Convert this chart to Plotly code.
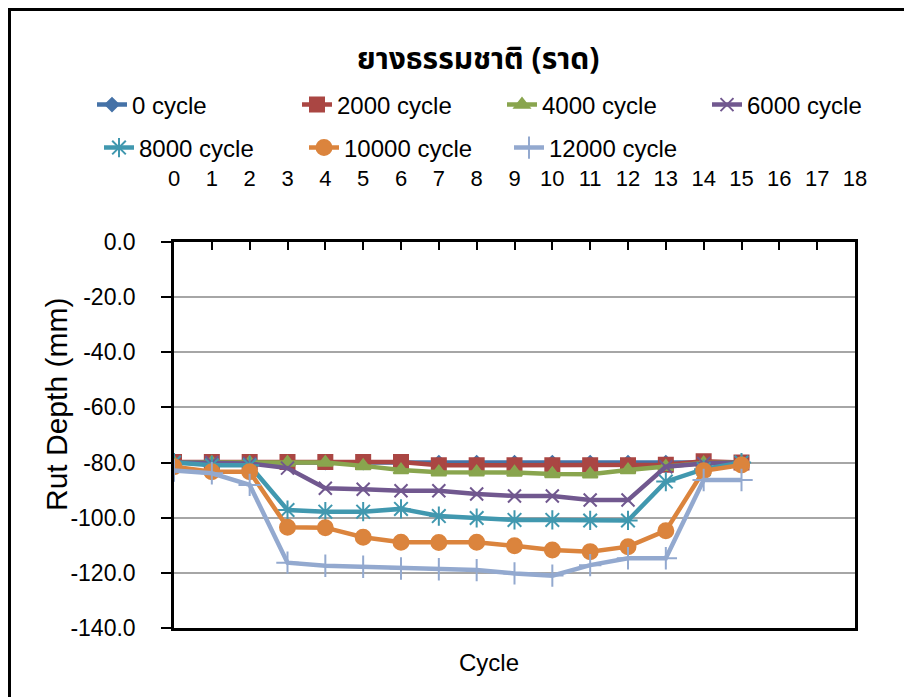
import plotly.graph_objects as go

# ---- data ----
positions = [0, 1, 2, 3, 4, 5, 6, 7, 8, 9, 10, 11, 12, 13, 14, 15]
series_names = ["0 cycle", "2000 cycle", "4000 cycle", "6000 cycle",
                "8000 cycle", "10000 cycle", "12000 cycle"]
c0 = [-80.0, -80.0, -80.0, -80.0, -80.0, -80.0, -80.0, -80.0,
      -80.0, -80.0, -80.0, -80.0, -80.0, -80.0, -80.0, -80.0]
c2000 = [-79.8, -79.8, -79.8, -79.8, -79.8, -79.8, -79.8, -81.0,
         -81.0, -81.0, -81.0, -81.0, -81.0, -80.8, -79.5, -80.0]
c4000 = [-80.0, -80.0, -80.0, -80.0, -80.0, -81.2, -82.7, -83.5,
         -83.5, -83.6, -84.1, -84.2, -82.7, -81.5, -80.2, -80.0]
c6000 = [-80.0, -80.0, -80.3, -82.0, -89.3, -89.7, -90.2, -90.2,
         -91.4, -92.1, -92.1, -93.6, -93.6, -81.5, -80.3, -80.0]
c8000 = [-80.0, -81.0, -81.0, -97.2, -97.8, -97.8, -96.8, -99.4,
         -100.1, -100.8, -100.8, -101.0, -101.0, -86.9, -82.4, -80.0]
c10000 = [-81.5, -83.3, -83.3, -103.5, -103.6, -107.1, -108.9, -109.0,
          -108.9, -110.2, -111.7, -112.3, -110.5, -104.7, -83.0, -80.9]
c12000 = [-82.9, -83.9, -88.1, -116.3, -117.4, -117.8, -118.4, -118.7,
          -119.0, -120.2, -121.0, -117.2, -114.7, -114.7, -86.3, -86.3]
x_ticks = list(range(0, 19))
y_ticks = [0, -20, -40, -60, -80, -100, -120, -140]
y_ticktext = ["0.0", "-20.0", "-40.0", "-60.0", "-80.0", "-100.0", "-120.0", "-140.0"]

values = [c0, c2000, c4000, c6000, c8000, c10000, c12000]
colors = ["#4572A7", "#AA4643", "#89A54E", "#71588F", "#4198AF", "#DB843D", "#93A9CF"]
symbols = ["diamond", "square", "triangle-up", "x-thin-open", "asterisk-open",
           "circle", "cross-thin-open"]
msizes = [10, 14, 13, 13, 16, 15, 16]
legends = ["legend", "legend", "legend", "legend", "legend2", "legend2", "legend2"]

FONT = "Liberation Sans, Arial, sans-serif"

fig = go.Figure()
for name, vals, col, sym, ms, lg in zip(series_names, values, colors, symbols, msizes, legends):
    fig.add_trace(go.Scatter(
        x=positions, y=vals, name=name, mode="lines+markers",
        line=dict(color=col, width=4.5),
        marker=dict(symbol=sym, size=ms, color=col,
                    line=dict(color=col, width=2)),
        legend=lg,
    ))

# page has an 8px body margin; work in screen pixels and convert
OFF = 8
plot_l, plot_r, plot_t, plot_b = 174, 855, 242, 628   # screen px
W, H = 904, 689
pw, ph = plot_r - plot_l, plot_b - plot_t

def px(x):
    return (x - plot_l) / pw

def py(y):
    return (plot_b - y) / ph

fig.update_layout(
    width=W, height=H,
    margin=dict(l=plot_l - OFF, r=W + OFF - plot_r, t=plot_t - OFF, b=H + OFF - plot_b, pad=0),
    paper_bgcolor="white", plot_bgcolor="white",
    font=dict(family=FONT, size=23, color="black"),
    showlegend=True,
    legend=dict(orientation="h", x=px(99), xanchor="left", y=py(105), yanchor="middle",
                entrywidth=160, font=dict(size=24), bgcolor="rgba(0,0,0,0)"),
    legend2=dict(orientation="h", x=px(99), xanchor="left", y=py(148), yanchor="middle",
                 entrywidth=160, font=dict(size=24), bgcolor="rgba(0,0,0,0)"),
    xaxis=dict(range=[0, 18], side="top", tickmode="array", tickvals=x_ticks,
               ticktext=[str(v) for v in x_ticks],
               ticks="inside", ticklen=8, tickwidth=2, tickcolor="black",
               showline=True, linecolor="black", linewidth=2.5, mirror=True,
               showgrid=False, zeroline=False, ticklabelstandoff=44,
               tickfont=dict(size=22)),
    yaxis=dict(range=[-140, 0], tickmode="array", tickvals=y_ticks,
               ticktext=y_ticktext, ticks="outside", ticklen=10, tickwidth=2,
               tickcolor="black", showline=True, linecolor="black", linewidth=2.5,
               mirror=True, showgrid=True, gridcolor="#A6A6A6", gridwidth=2,
               zeroline=False, ticklabelstandoff=21, tickfont=dict(size=23)),
)

# outer chart border
fig.add_shape(type="rect", xref="paper", yref="paper",
              x0=px(9.5), x1=px(940), y0=py(740), y1=py(9.5),
              line=dict(color="black", width=3), layer="below")

fig.add_annotation(text="<b>ยางธรรมชาติ (ราด)</b>", xref="paper", yref="paper",
                   x=px(478), y=py(60), xanchor="center", yanchor="middle", showarrow=False,
                   font=dict(family="Noto Sans Thai, Loma, Tahoma, Noto Sans, sans-serif", size=30))
fig.add_annotation(text="Rut Depth (mm)", xref="paper", yref="paper",
                   x=px(56), y=py(405), xanchor="center", yanchor="middle",
                   showarrow=False, textangle=-90,
                   font=dict(family=FONT, size=30))
fig.add_annotation(text="Cycle", xref="paper", yref="paper",
                   x=px(489), y=py(662), xanchor="center", yanchor="middle", showarrow=False,
                   font=dict(family=FONT, size=24))

fig.write_html("out.html")
